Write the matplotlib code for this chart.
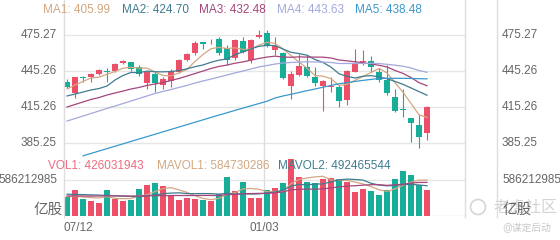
import matplotlib
matplotlib.use("Agg")
import matplotlib.pyplot as plt
from matplotlib.lines import Line2D
from matplotlib.patches import Ellipse
import numpy as np
import pandas as pd

plt.rcParams['font.family'] = ['Liberation Sans', 'Noto Sans CJK SC', 'DejaVu Sans']

# candles
opens = [436.1, 426.9, 439.5, 440.0, 442.8, 444.8, 445.3, 451.4, 452.3, 448.1,
         434.8, 442.5, 433.3, 436.7, 444.4, 454.2, 459.8, 469.4, 468.8, 471.4,
         463.9, 455.6, 470.0, 454.2, 473.1, 476.4, 462.5, 459.8, 432.1, 441.7,
         448.6, 439.8, 432.5, 431.6, 431.7, 421.1, 444.4, 452.6, 453.6, 444.4,
         437.5, 423.1, 412.8, 405.6, 400.0, 393.1]
closes = [431.9, 439.8, 439.0, 442.8, 445.8, 444.4, 450.6, 453.3, 446.4, 442.3,
          444.4, 434.8, 438.3, 445.3, 454.2, 459.0, 468.1, 467.5, 469.2, 459.8,
          454.2, 470.9, 461.1, 470.9, 475.4, 466.7, 465.8, 438.9, 442.5, 448.8,
          440.8, 434.8, 436.7, 432.0, 420.4, 445.3, 451.9, 453.0, 448.1, 437.5,
          426.4, 411.9, 412.4, 401.9, 390.0, 415.3]
highs = [438.3, 440.2, 440.8, 443.6, 446.5, 447.3, 451.5, 454.0, 452.8, 450.0,
         445.3, 444.2, 440.0, 446.3, 455.0, 460.0, 470.3, 469.6, 471.7, 473.3,
         466.7, 471.5, 473.1, 471.5, 479.2, 479.2, 473.6, 460.5, 445.0, 459.2,
         458.3, 448.6, 437.5, 440.0, 433.5, 446.0, 463.1, 462.5, 457.5, 447.3,
         450.0, 429.8, 429.8, 405.8, 409.2, 415.5]
lows = [430.8, 422.5, 435.6, 435.6, 442.0, 436.1, 444.0, 450.6, 445.0, 440.8,
        429.8, 427.8, 429.8, 431.4, 443.5, 453.0, 458.0, 463.1, 467.3, 458.3,
        450.0, 454.2, 459.8, 451.4, 472.3, 465.3, 458.3, 438.0, 421.7, 441.0,
        440.0, 432.5, 411.7, 427.8, 415.3, 416.7, 443.8, 450.0, 444.4, 436.1,
        425.0, 411.1, 406.9, 385.8, 380.8, 387.1]
# volume in millions of shares
volumes = [304, 423, 277, 249, 212, 423, 277, 249, 260, 440,
           500, 543, 483, 342, 260, 293, 271, 260, 249, 358,
           630, 407, 559, 288, 288, 423, 451, 543, 923, 630,
           554, 532, 597, 619, 608, 554, 385, 445, 402, 347,
           423, 597, 727, 662, 510, 426.031943]

ma1_head = [430.0, 433.3, 436.3, 439.2]
ma2_head = [424.2, 425.8, 427.5, 429.2, 430.4, 432.5, 437.5, 441.3, 443.8]
ma3_head = [415.0, 417.1, 419.2, 421.3, 422.9, 425.0, 426.7, 428.3, 430.0, 431.3,
            433.0, 434.2, 435.4, 437.1, 438.8, 440.8, 442.9, 445.0, 447.1]
ma4_head = [403.3, 405.4, 407.5, 409.6, 411.7, 413.8, 415.8, 417.9, 420.0, 422.1,
            424.2, 426.3, 428.0, 429.6, 431.3, 433.0, 435.0, 436.7, 438.3, 440.0,
            441.7, 443.4, 445.0, 446.7, 448.4, 449.6, 450.8, 451.7, 452.1]
ma5 = [None, None, 374.3, 376.3, 378.3, 380.3, 382.3, 384.3, 386.3, 388.3,
       390.3, 392.3, 394.3, 396.3, 398.3, 400.3, 402.3, 404.3, 406.3, 408.3,
       410.2, 412.2, 414.1, 416.0, 417.9, 419.8, 422.5, 424.2, 425.6, 427.1,
       428.6, 430.0, 431.5, 433.0, 434.4, 435.3, 436.3, 437.2, 438.0, 438.8,
       438.9, 438.9, 438.9, 438.8, 438.6, 438.48]
mavol1_head = [315, 320, 310, 300]
mavol2_head = [355, 352, 348, 344, 340, 336, 330, 325, 318]
mavol3_head = [326, 327, 325, 324, 326, 328, 327, 326, 325, 327,
               329, 331, 332, 333, 334, 333, 334, 335, 334]

price_ticks = [385.25, 415.26, 445.26, 475.27]
price_labels = ['385.25', '415.26', '445.26', '475.27']
vol_tick = 586212985
dates = ['07/12', '01/03']
date_idx = [0, 25]

RED = '#ee4f68'
GREEN = '#17ad99'
C_MA = ['#d2a781', '#3f7c90', '#a5467c', '#a4a8dc', '#3a98cc']
GRID = '#e6e6e6'
LABEL = '#666666'


def with_head(series, head, n):
    out = series.rolling(n).mean()
    out.iloc[:n - 1] = head
    return out


close_s = pd.Series(closes)
ma1 = with_head(close_s, ma1_head, 5)
ma2 = with_head(close_s, ma2_head, 10)
ma3 = with_head(close_s, ma3_head, 20)
ma4 = with_head(close_s, ma4_head, 30)
ma5 = pd.Series(ma5, dtype=float)

vol_s = pd.Series(volumes) * 1e6
mavol1 = with_head(vol_s, np.array(mavol1_head) * 1e6, 5)
mavol2 = with_head(vol_s, np.array(mavol2_head) * 1e6, 10)
mavol3 = with_head(vol_s, np.array(mavol3_head) * 1e6, 20)

W, H = 560, 240
fig = plt.figure(figsize=(5.6, 2.4), dpi=100)


def rect(x0, y0, x1, y1):
    return [x0 / W, 1 - y1 / H, (x1 - x0) / W, (y1 - y0) / H]


# price panel: 475.27 sits at y=34.7px, 385.25 at y=142.7px
ax = fig.add_axes(rect(64, 20, 465, 216))
per_px = (475.27 - 385.25) / 108.0
ax.set_ylim(475.27 - (216 - 34.7) * per_px, 475.27 + (34.7 - 20) * per_px)
axv = fig.add_axes(rect(64, 150, 465, 216))
axv.set_ylim(0, vol_tick * 66 / 36)
for a in (ax, axv):
    a.set_xlim(-0.375, 49.75)
    a.set_axis_off()
    a.patch.set_alpha(0)

x = np.arange(len(closes))
o = np.array(opens)
c = np.array(closes)
colors = [RED if cc >= oo else GREEN for oo, cc in zip(o, c)]

for t in price_ticks:
    ax.axhline(t, color=GRID, lw=1, zorder=0)
axv.axhline(vol_tick, color=GRID, lw=1, zorder=0)
axv.axhline(0, color='#dddddd', lw=1, zorder=0)

ax.vlines(x, lows, highs, colors=colors, lw=0.8, zorder=2)
body = np.maximum(np.abs(c - o), 0.8)
ax.bar(x, body, bottom=np.minimum(o, c), width=0.7, color=colors, zorder=3)

for ma, col in zip([ma1, ma2, ma3, ma4, ma5], C_MA):
    ax.plot(x, ma, color=col, lw=0.9, zorder=4, clip_on=False)

axv.bar(x, vol_s, width=0.7, color=colors, zorder=2)
axv.plot(x, mavol1, color=C_MA[0], lw=0.9, zorder=3)
axv.plot(x, mavol2, color=C_MA[1], lw=0.9, zorder=3)
axv.plot(x, mavol3, color=C_MA[2], lw=0.9, zorder=3)

# vertical lines
for xp in (64, 465, 497):
    fig.add_artist(Line2D([xp / W, xp / W], [1 - 217 / H, 1], color='#dddddd', lw=1))
for i in date_idx[1:]:
    ax.axvline(i - 0.35, color='#dddddd', lw=1, zorder=0, ymin=0, ymax=1, clip_on=False)
    fig.add_artist(Line2D([(64 + (i - 0.35 + 0.375) * 8) / W] * 2, [1 - 20 / H, 1],
                          color='#dddddd', lw=1))

# y labels
ytr = ax.get_yaxis_transform()
for t, lab in zip(price_ticks, price_labels):
    ax.text(-7 / 401, t, lab, transform=ytr, ha='right', va='center', fontsize=8.5, color=LABEL)
    ax.text(438 / 401, t, lab, transform=ytr, ha='left', va='center', fontsize=8.5, color=LABEL)
vtr = axv.get_yaxis_transform()
axv.text(-7 / 401, vol_tick, str(vol_tick), transform=vtr, ha='right', va='center', fontsize=8.5, color=LABEL)
axv.text(438 / 401, vol_tick, str(vol_tick), transform=vtr, ha='left', va='center', fontsize=8.5, color=LABEL)
fig.text(63 / W, 1 - 210 / H, '亿股', ha='right', va='center', fontsize=10.5, color=LABEL)

# watermark
fig.add_artist(Ellipse((478 / W, 1 - 207 / H), 15 / W, 15 / H, transform=fig.transFigure,
                       fill=False, ec='#d6d6d6', lw=1.2))
fig.text(493 / W, 1 - 207 / H, '老虎社区', ha='left', va='center', fontsize=11.5, color='#d4d4d4')
fig.text(503 / W, 1 - 210 / H, '亿股', ha='left', va='center', fontsize=10.5, color=LABEL)
fig.text(502 / W, 1 - 228 / H, '@谋定后动', ha='left', va='center', fontsize=7, color='#c8c8c8')

# dates
xtr = ax.get_xaxis_transform()
ax.text(date_idx[0] - 0.375, -12 / 196, dates[0], transform=xtr, ha='left', va='center', fontsize=8.5, color=LABEL)
ax.text(date_idx[1] - 0.35, -12 / 196, dates[1], transform=xtr, ha='center', va='center', fontsize=8.5, color=LABEL)

# legends
ma_names = ['MA1', 'MA2', 'MA3', 'MA4', 'MA5']
ma_last = [ma1.iloc[-1], ma2.iloc[-1], ma3.iloc[-1], ma4.iloc[-1], ma5.iloc[-1]]
ma_shown = ['405.99', '424.70', '432.48', '443.63', '438.48']
for xp, name, val, col in zip([43, 122, 199, 277, 355], ma_names, ma_shown, C_MA):
    fig.text(xp / W, 1 - 10 / H, f'{name}: {val}', ha='left', va='center', fontsize=8.5, color=col)

fig.text(48 / W, 1 - 166 / H, 'VOL1: 426031943', ha='left', va='center', fontsize=8.5, color='#ee6a7e')
fig.text(157 / W, 1 - 166 / H, 'MAVOL1: 584730286', ha='left', va='center', fontsize=8.5, color=C_MA[0])
fig.text(278 / W, 1 - 166 / H, 'MAVOL2: 492465544', ha='left', va='center', fontsize=8.5, color=C_MA[1])

fig.savefig('out.png', dpi=100)
